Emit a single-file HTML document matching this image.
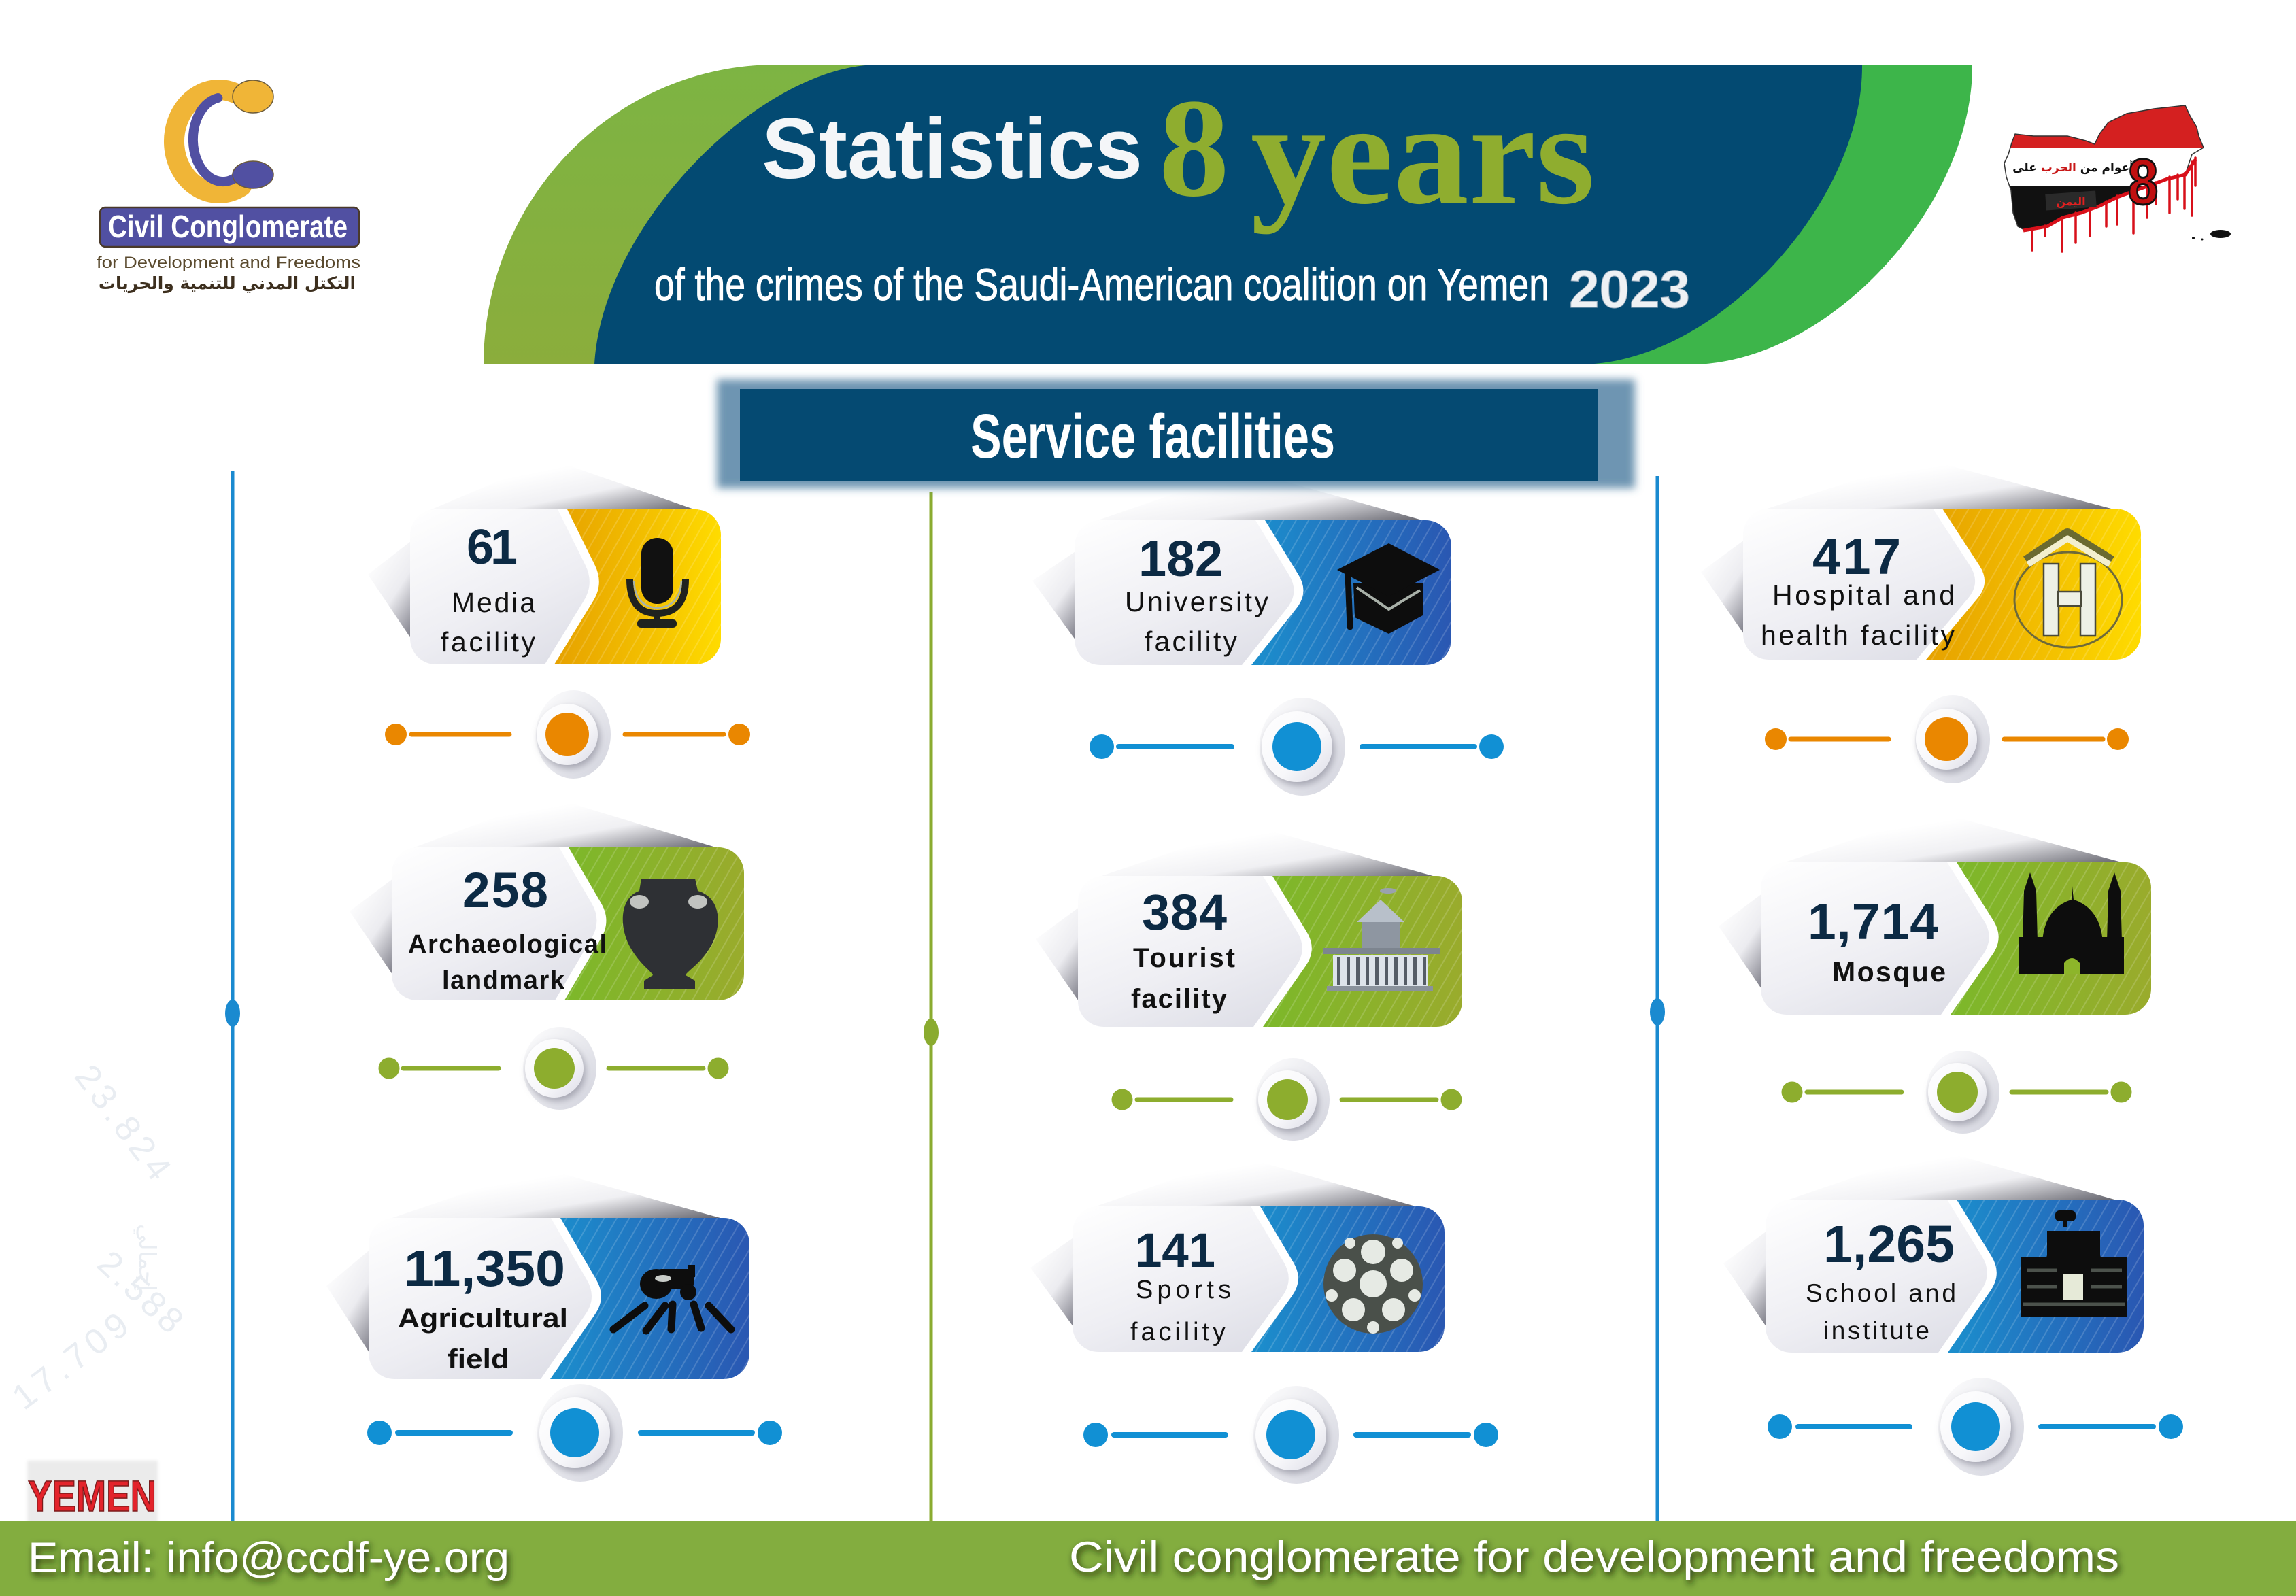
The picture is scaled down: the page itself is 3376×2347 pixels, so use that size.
<!DOCTYPE html>
<html><head><meta charset="utf-8"><style>
html,body{margin:0;padding:0;background:#fff;overflow:hidden}
svg{display:block}
.num{font-family:"Liberation Sans",sans-serif;font-weight:bold;fill:#0c2a44}
.lab{font-family:"Liberation Sans",sans-serif;fill:#111}
.b{font-weight:bold}
</style></head><body>
<svg xmlns="http://www.w3.org/2000/svg" width="3376" height="2347" viewBox="0 0 3376 2347">
<defs>
<linearGradient id="lgreen" x1="0" y1="0" x2="0" y2="1"><stop offset="0" stop-color="#7db443"/><stop offset="1" stop-color="#8bad3c"/></linearGradient>
<linearGradient id="gcard" x1="0" y1="0" x2="1" y2="1"><stop offset="0" stop-color="#ffffff"/><stop offset="0.45" stop-color="#eeeef3"/><stop offset="1" stop-color="#d0d1dc"/></linearGradient>
<linearGradient id="yel" x1="0" y1="0" x2="1" y2="0"><stop offset="0" stop-color="#e6a100"/><stop offset="0.6" stop-color="#f4c200"/><stop offset="1" stop-color="#ffdc00"/></linearGradient>
<linearGradient id="blu" x1="0" y1="0" x2="1" y2="0"><stop offset="0" stop-color="#1b8fcd"/><stop offset="1" stop-color="#2a57b2"/></linearGradient>
<linearGradient id="grn" x1="0" y1="0" x2="1" y2="0"><stop offset="0" stop-color="#7cb82a"/><stop offset="1" stop-color="#9aab2c"/></linearGradient>
<pattern id="str" width="16" height="16" patternUnits="userSpaceOnUse" patternTransform="rotate(30)"><rect x="0" y="0" width="2" height="16" fill="#ffffff" fill-opacity="0.16"/></pattern>
<linearGradient id="tsg" x1="0.35" y1="0.3" x2="1" y2="0.9"><stop offset="0" stop-color="#ffffff"/><stop offset="0.45" stop-color="#f0f0f3"/><stop offset="1" stop-color="#66666f"/></linearGradient>
<linearGradient id="lsg" x1="0.2" y1="0.1" x2="0.8" y2="1"><stop offset="0" stop-color="#ffffff"/><stop offset="0.5" stop-color="#ececf0"/><stop offset="1" stop-color="#777782"/></linearGradient>
<linearGradient id="halo" x1="0" y1="0" x2="1" y2="1"><stop offset="0" stop-color="#ffffff"/><stop offset="1" stop-color="#d2d3dd"/></linearGradient>
<linearGradient id="ring" x1="0" y1="0" x2="1" y2="1"><stop offset="0" stop-color="#ffffff"/><stop offset="0.6" stop-color="#f7f7fa"/><stop offset="1" stop-color="#dcdce6"/></linearGradient>
<filter id="rs" x="-50%" y="-50%" width="200%" height="200%"><feDropShadow dx="3" dy="5" stdDeviation="5" flood-color="#7c7c8c" flood-opacity="0.6"/></filter>
<filter id="ts" x="-10%" y="-50%" width="120%" height="200%"><feDropShadow dx="3" dy="5" stdDeviation="5" flood-color="#16230a" flood-opacity="0.9"/></filter>
<filter id="bl" x="-10%" y="-30%" width="120%" height="160%"><feGaussianBlur stdDeviation="6"/></filter>
<filter id="bl2" x="-20%" y="-20%" width="140%" height="140%"><feGaussianBlur stdDeviation="2"/></filter>
<clipPath id="c1"><rect x="603" y="749" width="457" height="228" rx="38"/></clipPath>
<clipPath id="c2"><rect x="1580" y="765" width="554" height="213" rx="38"/></clipPath>
<clipPath id="c3"><rect x="2563" y="748" width="585" height="222" rx="38"/></clipPath>
<clipPath id="c4"><rect x="576" y="1246" width="518" height="225" rx="38"/></clipPath>
<clipPath id="c5"><rect x="1585" y="1288" width="565" height="222" rx="38"/></clipPath>
<clipPath id="c6"><rect x="2589" y="1268" width="574" height="224" rx="38"/></clipPath>
<clipPath id="c7"><rect x="542" y="1791" width="560" height="237" rx="38"/></clipPath>
<clipPath id="c8"><rect x="1577" y="1774" width="547" height="214" rx="38"/></clipPath>
<clipPath id="c9"><rect x="2596" y="1764" width="556" height="225" rx="38"/></clipPath>
<clipPath id="map"><path d="M2958,210 L2963,197 L2990,200 L3040,200 L3067,207 L3080,212 L3087,197 L3100,180 L3127,167 L3167,160 L3213,155 L3220,170 L3230,187 L3233,200 L3240,217 L3223,227 L3213,257 L3187,263 L3160,273 L3140,280 L3113,290 L3087,303 L3060,313 L3033,320 L3010,333 L2980,340 L2967,333 L2960,313 L2957,280 L2950,260 L2947,240 L2953,227 Z"/></clipPath>
</defs>

<rect x="0" y="0" width="3376" height="2347" fill="#ffffff"/>

<!-- HEADER -->
<path d="M711,536 A430,441 0 0 1 1141,95 L1500,95 L1500,536 Z" fill="url(#lgreen)"/>
<path d="M2500,95 L2900,95 C2902,300 2690,536 2485,536 L2300,536 Z" fill="#3db54a"/>
<path d="M874,536 C885,330 1120,95 1292,95 L2738,95 C2740,300 2520,536 2323,536 Z" fill="#034a72"/>
<text x="1120" y="262" font-family="Liberation Sans, sans-serif" font-weight="bold" font-size="126" fill="#f4f6f8" textLength="560" lengthAdjust="spacingAndGlyphs">Statistics</text>
<text x="1704" y="287" font-family="Liberation Serif, serif" font-weight="bold" font-size="207" fill="#8fad2f">8</text>
<text x="1839" y="298" font-family="Liberation Serif, serif" font-weight="bold" font-size="215" fill="#8fad2f" textLength="506" lengthAdjust="spacingAndGlyphs">years</text>
<text x="962" y="441" font-family="Liberation Sans, sans-serif" font-size="66" fill="#ffffff" stroke="#ffffff" stroke-width="1" textLength="1316" lengthAdjust="spacingAndGlyphs">of the crimes of the Saudi-American coalition on Yemen</text>
<text x="2307" y="452" font-family="Liberation Sans, sans-serif" font-weight="bold" font-size="78" fill="#eef1f4" stroke="#9fb0c0" stroke-width="1" textLength="178" lengthAdjust="spacingAndGlyphs">2023</text>

<!-- LOGO LEFT -->
<path d="M344.6,136.6 A66,76 0 1 0 355,273.8" fill="none" stroke="#f0b537" stroke-width="30" stroke-linecap="round"/>
<path d="M320.4,144 A44,62 0 1 0 359.1,248.8" fill="none" stroke="#5150a2" stroke-width="14" stroke-linecap="round"/>
<ellipse cx="372" cy="142" rx="30" ry="24" fill="#f0b537" stroke="#6b5a3a" stroke-width="1.5"/>
<ellipse cx="372" cy="257" rx="30" ry="20" fill="#5150a2" stroke="#6b5a3a" stroke-width="1.5"/>
<rect x="147" y="305" width="381" height="58" rx="8" fill="#5150a2" stroke="#4a3a2a" stroke-width="2.5"/>
<text x="159" y="349" font-family="Liberation Sans, sans-serif" font-weight="bold" font-size="46" fill="#ffffff" textLength="352" lengthAdjust="spacingAndGlyphs">Civil Conglomerate</text>
<text x="142" y="394" font-family="Liberation Sans, sans-serif" font-size="24" fill="#5a4a2e" textLength="388" lengthAdjust="spacingAndGlyphs">for Development and Freedoms</text>
<text x="334" y="425" text-anchor="middle" font-family="DejaVu Sans, sans-serif" font-weight="bold" font-size="25" fill="#3d2f1e">التكتل المدني للتنمية والحريات</text>

<!-- LOGO RIGHT (map) -->
<g clip-path="url(#map)">
<rect x="2940" y="150" width="310" height="68" fill="#d42020"/>
<rect x="2940" y="218" width="310" height="55" fill="#ffffff"/>
<rect x="2940" y="273" width="310" height="75" fill="#111111"/>
</g>
<path d="M2958,210 L2963,197 L2990,200 L3040,200 L3067,207 L3080,212 L3087,197 L3100,180 L3127,167 L3167,160 L3213,155 L3220,170 L3230,187 L3233,200 L3240,217 L3223,227 L3213,257 L3187,263 L3160,273 L3140,280 L3113,290 L3087,303 L3060,313 L3033,320 L3010,333 L2980,340 L2967,333 L2960,313 L2957,280 L2950,260 L2947,240 L2953,227 Z" fill="none" stroke="#333" stroke-width="1.5"/>
<path d="M2975,339 L3010,333 L3033,320 L3060,313 L3087,303 L3113,290 L3140,280 L3160,273 L3187,263 L3213,257 L3228,235" fill="none" stroke="#d8101a" stroke-width="5"/>
<g stroke="#d8101a" stroke-width="3.5" stroke-linecap="round">
<line x1="2988" y1="336" x2="2988" y2="368"/><line x1="3007" y1="332" x2="3007" y2="347"/><line x1="3032" y1="319" x2="3032" y2="370"/><line x1="3052" y1="313" x2="3052" y2="357"/><line x1="3073" y1="306" x2="3073" y2="347"/><line x1="3097" y1="296" x2="3097" y2="333"/><line x1="3113" y1="288" x2="3113" y2="330"/><line x1="3137" y1="279" x2="3137" y2="343"/><line x1="3157" y1="272" x2="3157" y2="320"/><line x1="3170" y1="268" x2="3170" y2="300"/><line x1="3190" y1="260" x2="3190" y2="313"/><line x1="3202" y1="257" x2="3202" y2="293"/><line x1="3212" y1="255" x2="3212" y2="307"/><line x1="3223" y1="238" x2="3223" y2="317"/><line x1="3228" y1="232" x2="3228" y2="273"/>
</g>
<text x="3048" y="252" text-anchor="middle" font-family="DejaVu Sans, sans-serif" font-weight="bold" font-size="17" fill="#111">أعوام من <tspan fill="#c81818">الحرب</tspan> على</text>
<text x="3151" y="300" text-anchor="middle" font-family="Liberation Sans, sans-serif" font-weight="bold" font-size="95" fill="#c01010" stroke="#111" stroke-width="3" textLength="45" lengthAdjust="spacingAndGlyphs">8</text>
<rect x="3008" y="283" width="74" height="24" fill="#2a2a2a" transform="rotate(-4 3045 295)"/>
<text x="3045" y="302" text-anchor="middle" font-family="DejaVu Sans, sans-serif" font-weight="bold" font-size="16" fill="#e02020">اليمن</text>
<ellipse cx="3265" cy="344" rx="15" ry="6" fill="#111"/>
<circle cx="3225" cy="350" r="2" fill="#111"/><circle cx="3238" cy="352" r="1.5" fill="#111"/>

<!-- VERTICAL LINES -->
<line x1="342" y1="693" x2="342" y2="2237" stroke="#1a8ad0" stroke-width="5"/>
<ellipse cx="342" cy="1490" rx="11" ry="20" fill="#1a8ad0"/>
<line x1="1369" y1="723" x2="1369" y2="2237" stroke="#8aab2f" stroke-width="5"/>
<ellipse cx="1369" cy="1518" rx="11" ry="20" fill="#8aab2f"/>
<line x1="2437" y1="700" x2="2437" y2="2237" stroke="#1a8ad0" stroke-width="5"/>
<ellipse cx="2437" cy="1488" rx="11" ry="20" fill="#1a8ad0"/>

<!-- WATERMARKS -->
<g font-family="Liberation Sans, sans-serif" font-size="52" fill="#e9edf2">
<text transform="translate(108,1583) rotate(53)" textLength="196">23.824</text>
<text transform="translate(140,1862) rotate(43)" textLength="149">2.588</text>
<text transform="translate(35,2075) rotate(-37)" textLength="198">17.709</text>
<text transform="translate(205,1800) rotate(90)" font-family="DejaVu Sans, sans-serif" font-size="34">إجمالي</text>
</g>

<!-- SHADOWS -->
<g>
<polygon points="623,754 809,675 1035,754" fill="url(#tsg)"/><polygon points="613,789 541,845 613,952" fill="url(#lsg)"/>
<polygon points="1600,770 1829,691 2109,770" fill="url(#tsg)"/><polygon points="1590,805 1518,854 1590,953" fill="url(#lsg)"/>
<polygon points="2583,753 2826,674 3123,753" fill="url(#tsg)"/><polygon points="2573,788 2501,841 2573,945" fill="url(#lsg)"/>
<polygon points="596,1251 809,1172 1069,1251" fill="url(#tsg)"/><polygon points="586,1286 514,1340 586,1446" fill="url(#lsg)"/>
<polygon points="1605,1293 1839,1214 2125,1293" fill="url(#tsg)"/><polygon points="1595,1328 1523,1381 1595,1485" fill="url(#lsg)"/>
<polygon points="2609,1273 2847,1194 3138,1273" fill="url(#tsg)"/><polygon points="2599,1308 2527,1362 2599,1467" fill="url(#lsg)"/>
<polygon points="562,1796 794,1717 1077,1796" fill="url(#tsg)"/><polygon points="552,1831 480,1891 552,2003" fill="url(#lsg)"/>
<polygon points="1597,1779 1823,1700 2099,1779" fill="url(#tsg)"/><polygon points="1587,1814 1515,1864 1587,1963" fill="url(#lsg)"/>
<polygon points="2616,1769 2846,1690 3127,1769" fill="url(#tsg)"/><polygon points="2606,1804 2534,1858 2606,1964" fill="url(#lsg)"/>
</g>

<!-- BANNER -->
<rect x="1054" y="558" width="1350" height="160" fill="#3f7298" fill-opacity="0.75" filter="url(#bl)"/>
<rect x="1088" y="572" width="1262" height="136" fill="#054a72"/>
<text x="1427" y="673" font-family="Liberation Sans, sans-serif" font-weight="bold" font-size="92" fill="#ffffff" textLength="536" lengthAdjust="spacingAndGlyphs">Service facilities</text>

<!-- CARD 1 Media -->
<g clip-path="url(#c1)">
<rect x="603" y="749" width="457" height="228" fill="url(#gcard)"/>
<path d="M820,749 L1061,749 L1061,977 L801,977 L858.3,883.6 Q874,858 860.7,831.1 Z" fill="#fff"/>
<path d="M834,749 L1061,749 L1061,977 L815,977 L872.3,883.6 Q888,858 874.7,831.1 Z" fill="url(#yel)"/>
<path d="M834,749 L1061,749 L1061,977 L815,977 L872.3,883.6 Q888,858 874.7,831.1 Z" fill="url(#str)"/>
</g>
<rect x="943" y="791" width="47" height="97" rx="23" fill="#111"/>
<path d="M926,852 Q926,902 966,902 Q1008,902 1008,852" fill="none" stroke="#1f221f" stroke-width="10"/>
<path d="M932,854 Q934,892 966,894 Q1000,892 1002,854" fill="none" stroke="#aab4a8" stroke-width="2.5"/>
<rect x="962" y="901" width="9" height="12" fill="#1f221f"/>
<rect x="937" y="911" width="58" height="12" rx="5" fill="#1f221f"/>
<text class="num" x="686" y="829" font-size="72" textLength="75">61</text>
<text class="lab" x="664" y="900" font-size="41" textLength="123">Media</text>
<text class="lab" x="648" y="958" font-size="41" textLength="139">facility</text>

<!-- CARD 2 University -->
<g clip-path="url(#c2)">
<rect x="1580" y="765" width="554" height="213" fill="url(#gcard)"/>
<path d="M1846,765 L2135,765 L2135,978 L1826,978 L1892.3,894.5 Q1911,871 1895.3,845.4 Z" fill="#fff"/>
<path d="M1860,765 L2135,765 L2135,978 L1840,978 L1906.3,894.5 Q1925,871 1909.3,845.4 Z" fill="url(#blu)"/>
<path d="M1860,765 L2135,765 L2135,978 L1840,978 L1906.3,894.5 Q1925,871 1909.3,845.4 Z" fill="url(#str)"/>
</g>
<polygon points="1990,858 2092,858 2092,905 2042,932 1992,908" fill="#0d0d0d"/>
<polygon points="1966,838 2042,799 2117,838 2042,877" fill="#0d0d0d"/>
<polyline points="1995,864 2042,896 2088,868" fill="none" stroke="#a8b0a8" stroke-width="4"/>
<line x1="1982" y1="845" x2="1985" y2="922" stroke="#0d0d0d" stroke-width="9" stroke-linecap="round"/>
<text class="num" x="1674" y="847" font-size="74" textLength="124">182</text>
<text class="lab" x="1654" y="899" font-size="41" textLength="211">University</text>
<text class="lab" x="1683" y="957" font-size="41" textLength="136">facility</text>

<!-- CARD 3 Hospital -->
<g clip-path="url(#c3)">
<rect x="2563" y="748" width="585" height="222" fill="url(#gcard)"/>
<path d="M2842,748 L3149,748 L3149,970 L2818,970 L2893.7,880 Q2913,857 2896.6,831.9 Z" fill="#fff"/>
<path d="M2856,748 L3149,748 L3149,970 L2832,970 L2907.7,880 Q2927,857 2910.6,831.9 Z" fill="url(#yel)"/>
<path d="M2856,748 L3149,748 L3149,970 L2832,970 L2907.7,880 Q2927,857 2910.6,831.9 Z" fill="url(#str)"/>
</g>
<ellipse cx="3041" cy="882" rx="79" ry="70" fill="none" stroke="#6e6a3a" stroke-width="3"/>
<polyline points="2980,826 3040,786 3104,826" fill="none" stroke="#6b6a30" stroke-width="18" stroke-linejoin="round"/>
<polyline points="2982,830 3040,792 3102,830" fill="none" stroke="#f3efcf" stroke-width="9" stroke-linejoin="round"/>
<g fill="#eef1e6" stroke="#4a4a3a" stroke-width="2.5">
<rect x="3005" y="829" width="22" height="106"/><rect x="3059" y="829" width="22" height="106"/><rect x="3026" y="870" width="34" height="21"/>
</g>
<text class="num" x="2665" y="844" font-size="74" textLength="130">417</text>
<text class="lab" x="2606" y="889" font-size="41" textLength="268">Hospital and</text>
<text class="lab" x="2589" y="948" font-size="41" textLength="285">health facility</text>

<!-- CARD 4 Archaeological -->
<g clip-path="url(#c4)">
<rect x="576" y="1246" width="518" height="225" fill="url(#gcard)"/>
<path d="M822,1246 L1095,1246 L1095,1471 L816,1471 L869.8,1379.8 Q885,1354 869.9,1328.1 Z" fill="#fff"/>
<path d="M836,1246 L1095,1246 L1095,1471 L830,1471 L883.8,1379.8 Q899,1354 883.9,1328.1 Z" fill="url(#grn)"/>
<path d="M836,1246 L1095,1246 L1095,1471 L830,1471 L883.8,1379.8 Q899,1354 883.9,1328.1 Z" fill="url(#str)"/>
</g>
<path d="M943,1292 L1022,1292 L1026,1310 C1060,1320 1062,1360 1046,1390 C1030,1418 1010,1428 1008,1434 L1022,1442 L1022,1454 L947,1454 L947,1442 L960,1434 C958,1428 940,1418 925,1390 C910,1360 912,1320 940,1310 Z" fill="#2e3034"/>
<ellipse cx="940" cy="1326" rx="14" ry="10" fill="#e6e8e4" fill-opacity="0.8"/>
<ellipse cx="1026" cy="1326" rx="14" ry="10" fill="#e6e8e4" fill-opacity="0.8"/>
<text class="num" x="680" y="1334" font-size="73" textLength="126">258</text>
<text class="lab b" x="600" y="1401" font-size="38" textLength="292">Archaeological</text>
<text class="lab b" x="650" y="1454" font-size="38" textLength="180">landmark</text>

<!-- CARD 5 Tourist -->
<g clip-path="url(#c5)">
<rect x="1585" y="1288" width="565" height="222" fill="url(#gcard)"/>
<path d="M1857,1288 L2151,1288 L2151,1510 L1843,1510 L1905.8,1420.5 Q1923,1396 1907.4,1370.4 Z" fill="#fff"/>
<path d="M1871,1288 L2151,1288 L2151,1510 L1857,1510 L1919.8,1420.5 Q1937,1396 1921.4,1370.4 Z" fill="url(#grn)"/>
<path d="M1871,1288 L2151,1288 L2151,1510 L1857,1510 L1919.8,1420.5 Q1937,1396 1921.4,1370.4 Z" fill="url(#str)"/>
</g>
<ellipse cx="2041" cy="1310" rx="12" ry="4" fill="#9aa2ad"/>
<polygon points="1995,1356 2030,1323 2065,1356" fill="#b8c0ca"/>
<rect x="2002" y="1356" width="56" height="38" fill="#8e96a1"/>
<rect x="1946" y="1394" width="172" height="9" fill="#7d858f"/>
<rect x="1960" y="1405" width="140" height="46" fill="#dde3ea"/>
<g fill="#555c66"><rect x="1966" y="1408" width="5" height="40"/><rect x="1980" y="1408" width="5" height="40"/><rect x="1994" y="1408" width="5" height="40"/><rect x="2008" y="1408" width="5" height="40"/><rect x="2022" y="1408" width="5" height="40"/><rect x="2036" y="1408" width="5" height="40"/><rect x="2050" y="1408" width="5" height="40"/><rect x="2064" y="1408" width="5" height="40"/><rect x="2078" y="1408" width="5" height="40"/><rect x="2092" y="1408" width="5" height="40"/></g>
<rect x="1951" y="1450" width="156" height="8" fill="#8a929c"/>
<text class="num" x="1679" y="1367" font-size="74" textLength="125">384</text>
<text class="lab b" x="1666" y="1422" font-size="40" textLength="150">Tourist</text>
<text class="lab b" x="1663" y="1482" font-size="40" textLength="141">facility</text>

<!-- CARD 6 Mosque -->
<g clip-path="url(#c6)">
<rect x="2589" y="1268" width="574" height="224" fill="url(#gcard)"/>
<path d="M2863,1268 L3164,1268 L3164,1492 L2854,1492 L2915.8,1403.6 Q2933,1379 2917,1353.6 Z" fill="#fff"/>
<path d="M2877,1268 L3164,1268 L3164,1492 L2868,1492 L2929.8,1403.6 Q2947,1379 2931,1353.6 Z" fill="url(#grn)"/>
<path d="M2877,1268 L3164,1268 L3164,1492 L2868,1492 L2929.8,1403.6 Q2947,1379 2931,1353.6 Z" fill="url(#str)"/>
</g>
<g fill="#0d0d0d">
<path d="M2985,1283 L2994,1310 L2996,1385 L2974,1385 L2976,1310 Z"/>
<path d="M3109,1283 L3118,1310 L3120,1385 L3098,1385 L3100,1310 Z"/>
<path d="M3003,1392 C3003,1345 3028,1328 3046,1323 L3047,1303 L3049,1323 C3066,1328 3092,1345 3092,1392 Z"/>
<rect x="2968" y="1378" width="155" height="54"/>
</g>
<path d="M3035,1432 L3035,1416 Q3046,1402 3058,1416 L3058,1432 Z" fill="#8db52a"/>
<text class="num" x="2658" y="1381" font-size="75" textLength="192">1,714</text>
<text class="lab b" x="2694" y="1443" font-size="41" textLength="167">Mosque</text>

<!-- CARD 7 Agricultural -->
<g clip-path="url(#c7)">
<rect x="542" y="1791" width="560" height="237" fill="url(#gcard)"/>
<path d="M810,1791 L1103,1791 L1103,2028 L795,2028 L860.9,1932.7 Q878,1908 862.9,1882.1 Z" fill="#fff"/>
<path d="M824,1791 L1103,1791 L1103,2028 L809,2028 L874.9,1932.7 Q892,1908 876.9,1882.1 Z" fill="url(#blu)"/>
<path d="M824,1791 L1103,1791 L1103,2028 L809,2028 L874.9,1932.7 Q892,1908 876.9,1882.1 Z" fill="url(#str)"/>
</g>
<g fill="#0d0d0d">
<ellipse cx="965" cy="1888" rx="24" ry="22"/>
<rect x="965" y="1866" width="55" height="30" rx="8"/>
<circle cx="1012" cy="1900" r="12"/>
<rect x="1012" y="1860" width="10" height="18"/>
</g>
<ellipse cx="975" cy="1880" rx="12" ry="5" fill="#c8ccc8"/>
<g stroke="#0d0d0d" stroke-width="11" stroke-linecap="round">
<line x1="948" y1="1920" x2="902" y2="1955"/><line x1="978" y1="1920" x2="950" y2="1957"/><line x1="989" y1="1918" x2="987" y2="1955"/><line x1="1020" y1="1918" x2="1031" y2="1953"/><line x1="1042" y1="1920" x2="1075" y2="1955"/>
</g>
<text class="num" x="594" y="1891" font-size="75" textLength="237" lengthAdjust="spacingAndGlyphs">11,350</text>
<text class="lab b" x="585" y="1952" font-size="40" textLength="250" lengthAdjust="spacingAndGlyphs">Agricultural</text>
<text class="lab b" x="658" y="2012" font-size="40" textLength="91" lengthAdjust="spacingAndGlyphs">field</text>

<!-- CARD 8 Sports -->
<g clip-path="url(#c8)">
<rect x="1577" y="1774" width="547" height="214" fill="url(#gcard)"/>
<path d="M1839,1774 L2125,1774 L2125,1988 L1826,1988 L1885.4,1906.3 Q1903,1882 1887.7,1856.2 Z" fill="#fff"/>
<path d="M1853,1774 L2125,1774 L2125,1988 L1840,1988 L1899.4,1906.3 Q1917,1882 1901.7,1856.2 Z" fill="url(#blu)"/>
<path d="M1853,1774 L2125,1774 L2125,1988 L1840,1988 L1899.4,1906.3 Q1917,1882 1901.7,1856.2 Z" fill="url(#str)"/>
</g>
<circle cx="2019" cy="1888" r="73" fill="#4a504a"/>
<g fill="#e6eae4">
<circle cx="2019" cy="1888" r="20"/><circle cx="2019" cy="1841" r="18"/><circle cx="1977" cy="1868" r="17"/><circle cx="2061" cy="1868" r="17"/><circle cx="1990" cy="1926" r="17"/><circle cx="2049" cy="1926" r="17"/><circle cx="2019" cy="1952" r="9"/><circle cx="1958" cy="1905" r="9"/><circle cx="2080" cy="1905" r="9"/><circle cx="1985" cy="1828" r="8"/><circle cx="2055" cy="1828" r="8"/>
</g>
<text class="num" x="1669" y="1863" font-size="71" textLength="118">141</text>
<text class="lab" x="1670" y="1909" font-size="38" textLength="140">Sports</text>
<text class="lab" x="1662" y="1971" font-size="38" textLength="140">facility</text>

<!-- CARD 9 School -->
<g clip-path="url(#c9)">
<rect x="2596" y="1764" width="556" height="225" fill="url(#gcard)"/>
<path d="M2863,1764 L3153,1764 L3153,1989 L2850,1989 L2913,1897.7 Q2930,1873 2914.3,1847.4 Z" fill="#fff"/>
<path d="M2877,1764 L3153,1764 L3153,1989 L2864,1989 L2927,1897.7 Q2944,1873 2928.3,1847.4 Z" fill="url(#blu)"/>
<path d="M2877,1764 L3153,1764 L3153,1989 L2864,1989 L2927,1897.7 Q2944,1873 2928.3,1847.4 Z" fill="url(#str)"/>
</g>
<g fill="#0d0d0d">
<rect x="3022" y="1780" width="30" height="16" rx="6"/>
<rect x="3034" y="1790" width="6" height="14"/>
<polygon points="3009,1849 3020,1812 3078,1812 3089,1849"/>
<rect x="3010" y="1810" width="78" height="45"/>
<rect x="2971" y="1849" width="156" height="87"/>
</g>
<g stroke="#4c524c" stroke-width="5"><line x1="2980" y1="1868" x2="3024" y2="1868"/><line x1="2980" y1="1892" x2="3024" y2="1892"/><line x1="3074" y1="1868" x2="3120" y2="1868"/><line x1="3074" y1="1892" x2="3120" y2="1892"/><line x1="2975" y1="1918" x2="3124" y2="1918"/></g>
<rect x="3033" y="1874" width="30" height="37" fill="#e6ead8"/>
<text class="num" x="2681" y="1856" font-size="77" textLength="193">1,265</text>
<text class="lab" x="2655" y="1914" font-size="37" textLength="221">School and</text>
<text class="lab" x="2681" y="1969" font-size="37" textLength="156">institute</text>

<!-- SLIDERS -->
<g stroke-linecap="round">
<ellipse cx="843" cy="1080" rx="55" ry="65" fill="url(#halo)"/>
<circle cx="834" cy="1080" r="45" fill="url(#ring)" filter="url(#rs)"/>
<circle cx="834" cy="1080" r="32" fill="#ea8700"/>
<line x1="605" y1="1080" x2="749" y2="1080" stroke="#ea8700" stroke-width="7"/>
<line x1="919" y1="1080" x2="1064" y2="1080" stroke="#ea8700" stroke-width="7"/>
<circle cx="582" cy="1080" r="16" fill="#ea8700"/><circle cx="1087" cy="1080" r="16" fill="#ea8700"/>

<ellipse cx="1915" cy="1098" rx="63" ry="72" fill="url(#halo)"/>
<circle cx="1907" cy="1098" r="52" fill="url(#ring)" filter="url(#rs)"/>
<circle cx="1907" cy="1098" r="36" fill="#1190d4"/>
<line x1="1645" y1="1098" x2="1811" y2="1098" stroke="#1190d4" stroke-width="8"/>
<line x1="2003" y1="1098" x2="2168" y2="1098" stroke="#1190d4" stroke-width="8"/>
<circle cx="1620" cy="1098" r="18" fill="#1190d4"/><circle cx="2193" cy="1098" r="18" fill="#1190d4"/>

<ellipse cx="2871" cy="1087" rx="55" ry="65" fill="url(#halo)"/>
<circle cx="2862" cy="1087" r="45" fill="url(#ring)" filter="url(#rs)"/>
<circle cx="2862" cy="1087" r="32" fill="#ea8700"/>
<line x1="2633" y1="1087" x2="2777" y2="1087" stroke="#ea8700" stroke-width="7"/>
<line x1="2947" y1="1087" x2="3092" y2="1087" stroke="#ea8700" stroke-width="7"/>
<circle cx="2611" cy="1087" r="16" fill="#ea8700"/><circle cx="3114" cy="1087" r="16" fill="#ea8700"/>

<ellipse cx="823" cy="1571" rx="54" ry="61" fill="url(#halo)"/>
<circle cx="815" cy="1571" r="43" fill="url(#ring)" filter="url(#rs)"/>
<circle cx="815" cy="1571" r="30" fill="#8dad2e"/>
<line x1="593" y1="1571" x2="733" y2="1571" stroke="#8dad2e" stroke-width="7"/>
<line x1="895" y1="1571" x2="1034" y2="1571" stroke="#8dad2e" stroke-width="7"/>
<circle cx="572" cy="1571" r="15.5" fill="#8dad2e"/><circle cx="1056" cy="1571" r="15.5" fill="#8dad2e"/>

<ellipse cx="1901" cy="1617" rx="54" ry="61" fill="url(#halo)"/>
<circle cx="1893" cy="1617" r="43" fill="url(#ring)" filter="url(#rs)"/>
<circle cx="1893" cy="1617" r="30" fill="#8dad2e"/>
<line x1="1672" y1="1617" x2="1810" y2="1617" stroke="#8dad2e" stroke-width="7"/>
<line x1="1973" y1="1617" x2="2112" y2="1617" stroke="#8dad2e" stroke-width="7"/>
<circle cx="1650" cy="1617" r="15.5" fill="#8dad2e"/><circle cx="2134" cy="1617" r="15.5" fill="#8dad2e"/>

<ellipse cx="2886" cy="1606" rx="54" ry="61" fill="url(#halo)"/>
<circle cx="2878" cy="1606" r="43" fill="url(#ring)" filter="url(#rs)"/>
<circle cx="2878" cy="1606" r="30" fill="#8dad2e"/>
<line x1="2657" y1="1606" x2="2796" y2="1606" stroke="#8dad2e" stroke-width="7"/>
<line x1="2958" y1="1606" x2="3097" y2="1606" stroke="#8dad2e" stroke-width="7"/>
<circle cx="2635" cy="1606" r="15.5" fill="#8dad2e"/><circle cx="3119" cy="1606" r="15.5" fill="#8dad2e"/>

<ellipse cx="853" cy="2107" rx="63" ry="72" fill="url(#halo)"/>
<circle cx="845" cy="2107" r="52" fill="url(#ring)" filter="url(#rs)"/>
<circle cx="845" cy="2107" r="36" fill="#1190d4"/>
<line x1="585" y1="2107" x2="750" y2="2107" stroke="#1190d4" stroke-width="8"/>
<line x1="942" y1="2107" x2="1106" y2="2107" stroke="#1190d4" stroke-width="8"/>
<circle cx="558" cy="2107" r="18" fill="#1190d4"/><circle cx="1132" cy="2107" r="18" fill="#1190d4"/>

<ellipse cx="1906" cy="2110" rx="63" ry="72" fill="url(#halo)"/>
<circle cx="1898" cy="2110" r="52" fill="url(#ring)" filter="url(#rs)"/>
<circle cx="1898" cy="2110" r="36" fill="#1190d4"/>
<line x1="1638" y1="2110" x2="1802" y2="2110" stroke="#1190d4" stroke-width="8"/>
<line x1="1994" y1="2110" x2="2159" y2="2110" stroke="#1190d4" stroke-width="8"/>
<circle cx="1611" cy="2110" r="18" fill="#1190d4"/><circle cx="2185" cy="2110" r="18" fill="#1190d4"/>

<ellipse cx="2913" cy="2098" rx="63" ry="72" fill="url(#halo)"/>
<circle cx="2905" cy="2098" r="52" fill="url(#ring)" filter="url(#rs)"/>
<circle cx="2905" cy="2098" r="36" fill="#1190d4"/>
<line x1="2644" y1="2098" x2="2808" y2="2098" stroke="#1190d4" stroke-width="8"/>
<line x1="3001" y1="2098" x2="3166" y2="2098" stroke="#1190d4" stroke-width="8"/>
<circle cx="2617" cy="2098" r="18" fill="#1190d4"/><circle cx="3192" cy="2098" r="18" fill="#1190d4"/>
</g>

<!-- YEMEN graffiti -->
<rect x="40" y="2148" width="192" height="96" fill="#e2e2e2" fill-opacity="0.7" filter="url(#bl2)"/>
<text x="41" y="2222" font-family="Liberation Sans, sans-serif" font-weight="bold" font-size="64" fill="#e3232b" stroke="#7a1a1a" stroke-width="1.5" textLength="189" lengthAdjust="spacingAndGlyphs">YEMEN</text>

<!-- FOOTER -->
<rect x="0" y="2237" width="3376" height="110" fill="#83ad3f"/>
<g filter="url(#ts)">
<text x="41" y="2312" font-family="Liberation Sans, sans-serif" font-size="63" fill="#ffffff" textLength="708" lengthAdjust="spacingAndGlyphs">Email: info@ccdf-ye.org</text>
<text x="1572" y="2311" font-family="Liberation Sans, sans-serif" font-size="63" fill="#ffffff" textLength="1544" lengthAdjust="spacingAndGlyphs">Civil conglomerate for development and freedoms</text>
</g>
</svg>
</body></html>
